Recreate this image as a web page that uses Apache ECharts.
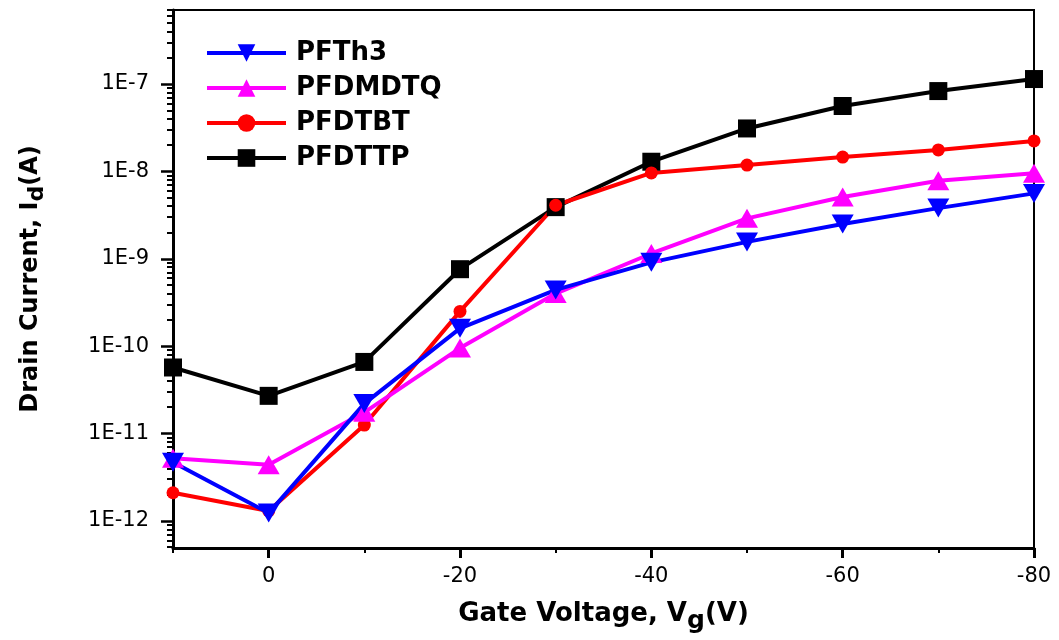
<!DOCTYPE html>
<html>
<head>
<meta charset="utf-8">
<script src="https://cdn.jsdelivr.net/npm/echarts@6/dist/echarts.min.js"></script>
<style>
html,body{margin:0;padding:0;background:#fff;}
#chart{width:1059px;height:640px;}
</style>
</head>
<body>
<div id="chart"></div>
<script>
// Gate voltage (V)
const vg = [10, 0, -10, -20, -30, -40, -50, -60, -70, -80];
// Drain current (A)
const pfth3   = [4.7e-12, 1.23e-12, 2.2e-11, 1.6e-10, 4.4e-10, 9.1e-10, 1.56e-9, 2.5e-9, 3.8e-9, 5.6e-9];
const pfdmdtq = [5.2e-12, 4.4e-12, 1.75e-11, 9.5e-11, 4.0e-10, 1.15e-9, 2.9e-9, 5.1e-9, 7.8e-9, 9.5e-9];
const pfdtbt  = [2.1e-12, 1.3e-12, 1.25e-11, 2.5e-10, 4.1e-9, 9.6e-9, 1.18e-8, 1.46e-8, 1.76e-8, 2.23e-8];
const pfdttp  = [5.7e-11, 2.7e-11, 6.6e-11, 7.6e-10, 3.9e-9, 1.29e-8, 3.1e-8, 5.6e-8, 8.3e-8, 1.14e-7];

const seriesNames = ['PFTh3', 'PFDMDTQ', 'PFDTBT', 'PFDTTP'];
const yMajorTicks = [1e-12, 1e-11, 1e-10, 1e-9, 1e-8, 1e-7];
const yTickLabels = ['1E-12', '1E-11', '1E-10', '1E-9', '1E-8', '1E-7'];
const xMajorTicks = [0, -20, -40, -60, -80];
const xMinorTicks = [10, -10, -30, -50, -70];
const yMin = 4.9e-13, yMax = 7.03e-7;

const yMinorTicks = [];
for (let e = -13; e <= -7; e++) {
  for (let k = 2; k <= 9; k++) {
    const v = k * Math.pow(10, e);
    if (v >= yMin && v <= yMax) yMinorTicks.push(v);
  }
}

const pairs = (ys) => vg.map((x, i) => [x, ys[i]]);
const FONT = 'DejaVu Sans';

const chart = echarts.init(document.getElementById('chart'), null, {renderer: 'canvas'});
const mk = (name, data, color, symbol, size, rotate) => ({
  name, type: 'line', data: pairs(data),
  xAxisIndex: 0, yAxisIndex: 0,
  symbol, symbolSize: size, symbolRotate: rotate || 0,
  color, lineStyle: {color, width: 4}, itemStyle: {color},
  clip: false, animation: false
});

chart.setOption({
  animation: false,
  backgroundColor: '#fff',
  grid: {left: 173, right: 25, top: 10, bottom: 92, show: true, borderColor: '#000', borderWidth: 2, containLabel: false},
  legend: {
    data: seriesNames,
    orient: 'vertical', left: 205, top: 40, padding: 0,
    itemWidth: 79, itemHeight: 22, itemGap: 9,
    lineStyle: {width: 4},
    textStyle: {fontFamily: FONT, fontWeight: 'bold', fontSize: 26, lineHeight: 26, color: '#000', padding: [0, 0, 0, 5]}
  },
  xAxis: [{
    type: 'value', min: -80, max: 10, inverse: true,
    axisLine: {show: true, onZero: false, lineStyle: {color: '#000', width: 3}},
    axisTick: {show: true, customValues: xMajorTicks, length: 10, lineStyle: {color: '#000', width: 3}},
    axisLabel: {customValues: xMajorTicks, fontFamily: FONT, fontSize: 21, color: '#000', margin: 18},
    splitLine: {show: false},
    name: '{n|Gate Voltage, V}{s|g}{n|(V)}',
    nameLocation: 'middle', nameGap: 47,
    nameTextStyle: {rich: {
      n: {fontFamily: FONT, fontWeight: 'bold', fontSize: 26, color: '#000'},
      s: {fontFamily: FONT, fontWeight: 'bold', fontSize: 25, color: '#000', padding: [14, 0, 0, 0]}
    }}
  }, {
    type: 'value', min: -80, max: 10, inverse: true, position: 'bottom',
    axisLine: {show: false, onZero: false}, axisLabel: {show: false}, splitLine: {show: false},
    axisTick: {show: true, customValues: xMinorTicks, length: 5, lineStyle: {color: '#000', width: 2}}
  }],
  yAxis: [{
    type: 'log', min: yMin, max: yMax, logBase: 10,
    axisLine: {show: true, onZero: false, lineStyle: {color: '#000', width: 3}},
    axisTick: {show: true, customValues: yMajorTicks, length: 12, lineStyle: {color: '#000', width: 2.5}},
    axisLabel: {customValues: yMajorTicks, fontFamily: FONT, fontSize: 21, color: '#000', margin: 24,
      formatter: (v) => { const i = yMajorTicks.findIndex(t => Math.abs(Math.log10(t) - Math.log10(v)) < 1e-6); return i >= 0 ? yTickLabels[i] : ''; }},
    splitLine: {show: false},
    name: '{n|Drain Current, I}{s|d}{n|(A)}',
    nameLocation: 'middle', nameGap: 125,
    nameTextStyle: {rich: {
      n: {fontFamily: FONT, fontWeight: 'bold', fontSize: 24, color: '#000'},
      s: {fontFamily: FONT, fontWeight: 'bold', fontSize: 22, color: '#000', padding: [12, 0, 0, 0]}
    }}
  }, {
    type: 'log', min: yMin, max: yMax, logBase: 10, position: 'left',
    axisLine: {show: false, onZero: false}, axisLabel: {show: false}, splitLine: {show: false},
    axisTick: {show: true, customValues: yMinorTicks, length: 6, lineStyle: {color: '#000', width: 2}}
  }],
  series: [
    mk('PFDTTP', pfdttp, '#000000', 'rect', 18),
    mk('PFDTBT', pfdtbt, '#ff0000', 'circle', 13),
    mk('PFDMDTQ', pfdmdtq, '#ff00ff', 'triangle', [22, 19]),
    mk('PFTh3', pfth3, '#0000ff', 'triangle', [22, 19], 180)
  ]
});
</script>
</body>
</html>
